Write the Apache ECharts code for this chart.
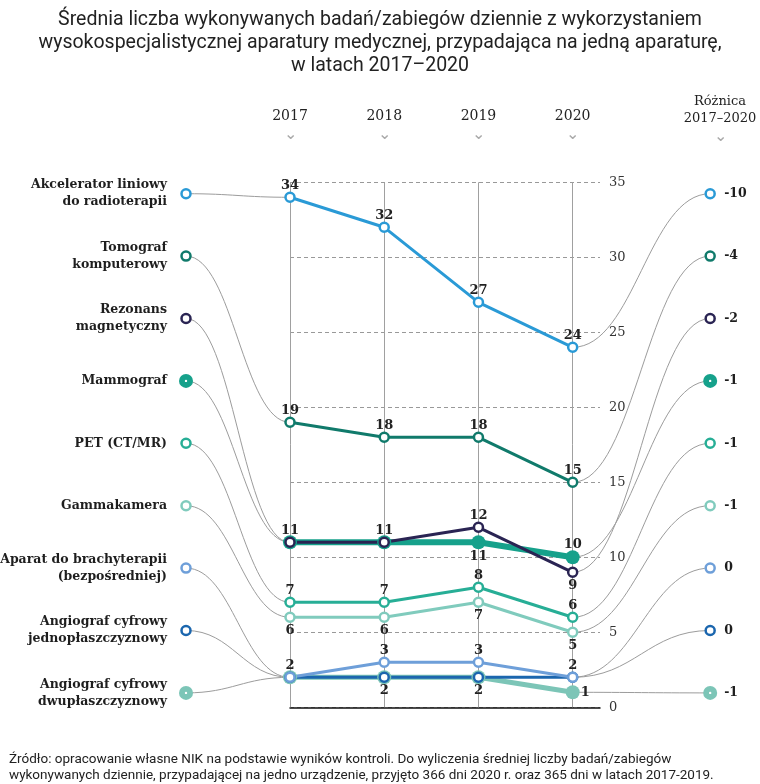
<!DOCTYPE html>
<html>
<head>
<meta charset="utf-8">
<script src="https://cdn.jsdelivr.net/npm/echarts@6/dist/echarts.min.js"></script>
<style>
  html, body { margin: 0; padding: 0; background: #fff; }
  #chart { width: 760px; height: 784px; }
</style>
</head>
<body>
<div id="chart"></div>
<script>
// ---------------- DATA ----------------
const years = [2017, 2018, 2019, 2020];
const devices = [
  'Akcelerator liniowy\ndo radioterapii',
  'Tomograf\nkomputerowy',
  'Rezonans\nmagnetyczny',
  'Mammograf',
  'PET (CT/MR)',
  'Gammakamera',
  'Aparat do brachyterapii\n(bezpośredniej)',
  'Angiograf cyfrowy\njednopłaszczyznowy',
  'Angiograf cyfrowy\ndwupłaszczyznowy'
];
const akcelerator    = [34, 32, 27, 24];
const tomograf       = [19, 18, 18, 15];
const rezonans       = [11, 11, 12, 9];
const mammograf      = [11, 11, 11, 10];
const pet            = [7, 7, 8, 6];
const gammakamera    = [6, 6, 7, 5];
const brachyterapia  = [2, 3, 3, 2];
const angiografJedno = [2, 2, 2, 2];
const angiografDwu   = [2, 2, 2, 1];
const differences = ['-10', '-4', '-2', '-1', '-1', '-1', '0', '0', '-1'];
const seriesValues = [akcelerator, tomograf, rezonans, mammograf, pet, gammakamera, brachyterapia, angiografJedno, angiografDwu];

// ---------------- STYLE ----------------
const colors = ['#2a9ad6', '#107a6b', '#2a2453', '#16a18b', '#27ae96', '#80cbbd', '#6e9fd9', '#1b66ae', '#7cc5b7'];
const filled = [false, false, false, true, false, false, false, false, true];
const lineWidths = [3, 3, 3, 6, 3, 3, 3, 3, 5];
const labelPositions = [
  ['top', 'top', 'top', 'top'],
  ['top', 'top', 'top', 'top'],
  ['top', 'top', 'top', 'bottom'],
  [null, null, 'bottom', 'top'],
  ['top', 'top', 'top', 'top'],
  ['bottom', 'bottom', 'bottom', 'bottom'],
  ['top', 'top', 'top', 'top'],
  [null, 'bottom', 'bottom', null],
  [null, null, null, 'right']
];
const labelDistance = { top: -1, bottom: 1, right: 1 };
const drawOrder = [8, 7, 6, 5, 4, 3, 2, 1, 0];

const serif = '"DejaVu Serif", "Liberation Serif", serif';
const narrow = '"Liberation Sans Narrow", "Roboto", sans-serif';
const rowTop = 193.7, rowStep = 62.4, leftGap = 104, rightGap = 137.5, xPad = 0.29;

const chart = echarts.init(document.getElementById('chart'));

const lineSeries = drawOrder.map(function (i) {
  const vals = seriesValues[i];
  return {
    type: 'line',
    name: devices[i],
    z: 3,
    symbol: 'circle',
    symbolSize: filled[i] ? 14 : 9,
    lineStyle: { color: colors[i], width: lineWidths[i] },
    itemStyle: filled[i]
      ? { color: colors[i], borderColor: colors[i], borderWidth: 0 }
      : { color: '#fff', borderColor: colors[i], borderWidth: 2.5 },
    label: { fontFamily: serif, fontWeight: 'bold', fontSize: 13, color: '#222' },
    emphasis: { disabled: true },
    data: vals.map(function (v, j) {
      const pos = labelPositions[i][j];
      return {
        value: [years[j], v],
        label: pos ? { show: true, position: pos, distance: labelDistance[pos] } : { show: false }
      };
    })
  };
});

// vertical year lines
lineSeries[0].markLine = {
  silent: true,
  z: 1,
  symbol: ['none', 'none'],
  label: { show: false },
  lineStyle: { color: '#a0a0a0', type: 'solid', width: 1 },
  data: years.map(function (y) { return { xAxis: y }; })
};

const connectorSeries = {
  type: 'custom',
  z: 2,
  silent: true,
  clip: false,
  data: seriesValues.map(function (vals, i) { return [years[0], vals[0], vals[3], i]; }),
  encode: { x: 0, y: 1 },
  renderItem: function (params, api) {
    const i = api.value(3);
    const p1 = api.coord([years[0], api.value(1)]);
    const p2 = api.coord([years[3], api.value(2)]);
    const rowY = rowTop + i * rowStep;
    const lx = p1[0] - leftGap;
    const rx = p2[0] + rightGap;
    const k = 0.45;
    const d1 = p1[0] - lx, d2 = rx - p2[0];
    const c = colors[i];
    function marker(x) {
      if (filled[i]) {
        return [
          { type: 'circle', shape: { cx: x, cy: rowY, r: 7 }, style: { fill: c } },
          { type: 'circle', shape: { cx: x, cy: rowY, r: 1.2 }, style: { fill: '#fff' } }
        ];
      }
      return [{ type: 'circle', shape: { cx: x, cy: rowY, r: 4.5 }, style: { fill: '#fff', stroke: c, lineWidth: 2.5 } }];
    }
    const children = [
      { type: 'bezierCurve', shape: { x1: lx, y1: rowY, cpx1: lx + d1 * k, cpy1: rowY, cpx2: p1[0] - d1 * k, cpy2: p1[1], x2: p1[0], y2: p1[1] },
        style: { stroke: '#9c9c9c', lineWidth: 1, fill: null } },
      { type: 'bezierCurve', shape: { x1: p2[0], y1: p2[1], cpx1: p2[0] + d2 * k, cpy1: p2[1], cpx2: rx - d2 * k, cpy2: rowY, x2: rx, y2: rowY },
        style: { stroke: '#9c9c9c', lineWidth: 1, fill: null } }
    ].concat(marker(lx), marker(rx), [
      { type: 'text', style: { text: devices[i], x: lx - 19, y: rowY, align: 'right', verticalAlign: 'middle',
          font: 'bold 12.5px ' + serif, fill: '#1e1e1e', lineHeight: 17 } },
      { type: 'text', style: { text: differences[i], x: rx + 14, y: rowY, align: 'left', verticalAlign: 'middle',
          font: 'bold 12.5px ' + serif, fill: '#1e1e1e' } }
    ]);
    return { type: 'group', children: children };
  }
};

chart.setOption({
  animation: false,
  backgroundColor: '#fff',
  title: [
    {
      text: 'Średnia liczba wykonywanych badań/zabiegów dziennie z wykorzystaniem\nwysokospecjalistycznej aparatury medycznej, przypadająca na jedną aparaturę,\nw latach 2017–2020',
      left: 'center', top: 4,
      textStyle: { fontFamily: narrow, fontWeight: 'normal', fontSize: 19.5, lineHeight: 23, color: '#222', align: 'center' }
    },
    {
      text: 'Różnica\n2017–2020',
      left: 715, top: 88, textAlign: 'center',
      textStyle: { fontFamily: serif, fontWeight: 'normal', fontSize: 13, lineHeight: 17, color: '#222' },
      subtext: '⌄', itemGap: 2,
      subtextStyle: { fontSize: 16, color: '#aaa' }
    },
    {
      text: 'Źródło: opracowanie własne NIK na podstawie wyników kontroli. Do wyliczenia średniej liczby badań/zabiegów\nwykonywanych dziennie, przypadającej na jedno urządzenie, przyjęto 366 dni 2020 r. oraz 365 dni w latach 2017-2019.',
      left: 4, top: 747,
      textStyle: { fontFamily: narrow, fontWeight: 'normal', fontSize: 13.5, lineHeight: 16, color: '#222' }
    }
  ],
  grid: { left: 290, right: 160, top: 182.3, bottom: 76.7, containLabel: false },
  xAxis: [
    {
      type: 'value', min: 2017, max: 2020 + xPad, position: 'bottom',
      axisLine: { show: true, onZero: false, lineStyle: { color: '#111', width: 1.5 } },
      axisTick: { show: false }, axisLabel: { show: false }, splitLine: { show: false }
    },
    {
      type: 'value', min: 2017, max: 2020 + xPad, position: 'top',
      axisLine: { show: false }, axisTick: { show: false }, splitLine: { show: false },
      axisLabel: {
        customValues: years, margin: 40,
        formatter: function (v) { return '{y|' + v + '}\n{c|⌄}'; },
        rich: {
          y: { fontFamily: serif, fontSize: 14, color: '#222', lineHeight: 20 },
          c: { fontSize: 16, color: '#aaa', lineHeight: 16 }
        }
      }
    }
  ],
  yAxis: {
    type: 'value', min: 0, max: 35, interval: 5, position: 'right',
    axisLine: { show: false }, axisTick: { show: false },
    splitLine: { show: true, lineStyle: { color: '#999', type: [4, 3], width: 1 } },
    axisLabel: { margin: 9, fontFamily: serif, fontSize: 13, color: '#333' }
  },
  series: [connectorSeries].concat(lineSeries)
});
</script>
</body>
</html>
